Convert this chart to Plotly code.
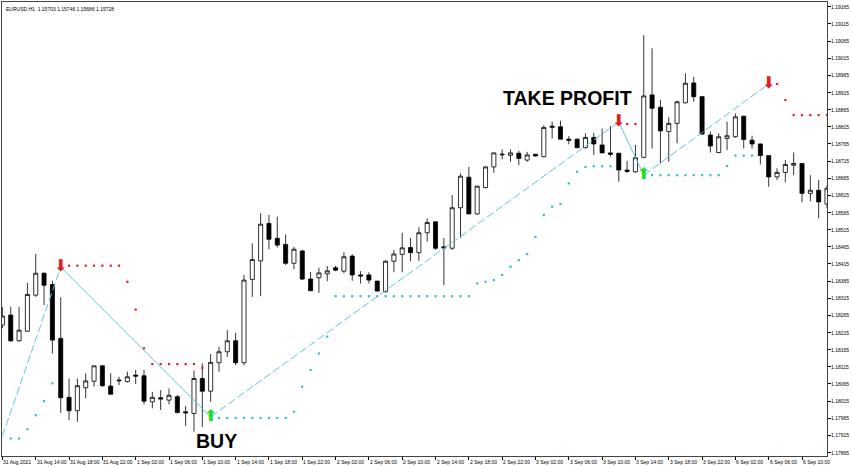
import plotly.graph_objects as go

# EURUSD H1, 31 Aug 10:00 -> 6 Sep 13:00 (weekend bars removed), one row per hourly bar
bar = list(range(100))

open_ = [1.18237, 1.18266, 1.18191, 1.18219, 1.18324, 1.18388, 1.18355, 1.18198, 1.18026, 1.17987,
         1.18054, 1.18073, 1.18118, 1.18059, 1.18074, 1.18072, 1.18091, 1.18089, 1.18013, 1.18025,
         1.18018, 1.18028, 1.17984, 1.17979, 1.18081, 1.18044, 1.18127, 1.18159, 1.18191, 1.18127,
         1.18370, 1.18424, 1.18533, 1.18490, 1.18472, 1.18417, 1.18453, 1.18371, 1.18375, 1.18386,
         1.18404, 1.18394, 1.18438, 1.18383, 1.18383, 1.18365, 1.18334, 1.18423, 1.18443, 1.18463,
         1.18448, 1.18506, 1.18538, 1.18465, 1.18461, 1.18579, 1.18668, 1.18561, 1.18638, 1.18698,
         1.18733, 1.18732, 1.18738, 1.18718, 1.18735, 1.18728, 1.18813, 1.18815, 1.18779, 1.18779,
         1.18754, 1.18784, 1.18762, 1.18739, 1.18738, 1.18689, 1.18684, 1.18726, 1.18908, 1.18872,
         1.18801, 1.18825, 1.18885, 1.18943, 1.18903, 1.18791, 1.18740, 1.18781, 1.18786, 1.18846,
         1.18776, 1.18765, 1.18731, 1.18669, 1.18682, 1.18703, 1.18708, 1.18621, 1.18630, 1.18590]

high = [1.18289, 1.18290, 1.18290, 1.18360, 1.18444, 1.18390, 1.18366, 1.18318, 1.18081, 1.18081,
        1.18096, 1.18118, 1.18119, 1.18096, 1.18086, 1.18101, 1.18106, 1.18106, 1.18042, 1.18047,
        1.18052, 1.18033, 1.18001, 1.18104, 1.18125, 1.18152, 1.18174, 1.18222, 1.18214, 1.18383,
        1.18475, 1.18563, 1.18558, 1.18553, 1.18501, 1.18465, 1.18456, 1.18392, 1.18404, 1.18409,
        1.18410, 1.18449, 1.18443, 1.18394, 1.18391, 1.18366, 1.18426, 1.18456, 1.18506, 1.18491,
        1.18522, 1.18548, 1.18539, 1.18491, 1.18616, 1.18679, 1.18698, 1.18642, 1.18700, 1.18739,
        1.18749, 1.18749, 1.18745, 1.18742, 1.18736, 1.18820, 1.18830, 1.18833, 1.18788, 1.18781,
        1.18796, 1.18797, 1.18810, 1.18817, 1.18739, 1.18716, 1.18762, 1.19082, 1.19044, 1.18893,
        1.18843, 1.18891, 1.18971, 1.18961, 1.18904, 1.18801, 1.18796, 1.18830, 1.18854, 1.18847,
        1.18789, 1.18766, 1.18732, 1.18694, 1.18718, 1.18740, 1.18709, 1.18674, 1.18660, 1.18645]

low = [1.18228, 1.18188, 1.18188, 1.18217, 1.18319, 1.18295, 1.18154, 1.17981, 1.17960, 1.17955,
       1.18023, 1.18057, 1.18057, 1.18035, 1.18062, 1.18069, 1.18065, 1.18006, 1.17994, 1.17989,
       1.18006, 1.17979, 1.17942, 1.17926, 1.17940, 1.18013, 1.18101, 1.18144, 1.18120, 1.18120,
       1.18319, 1.18321, 1.18458, 1.18463, 1.18412, 1.18400, 1.18368, 1.18337, 1.18331, 1.18365,
       1.18394, 1.18388, 1.18366, 1.18358, 1.18358, 1.18334, 1.18332, 1.18391, 1.18391, 1.18423,
       1.18424, 1.18480, 1.18456, 1.18353, 1.18456, 1.18491, 1.18561, 1.18558, 1.18635, 1.18681,
       1.18720, 1.18713, 1.18703, 1.18713, 1.18728, 1.18726, 1.18781, 1.18779, 1.18764, 1.18754,
       1.18752, 1.18733, 1.18739, 1.18728, 1.18655, 1.18681, 1.18681, 1.18723, 1.18752, 1.18708,
       1.18713, 1.18767, 1.18883, 1.18888, 1.18791, 1.18740, 1.18738, 1.18747, 1.18783, 1.18752,
       1.18752, 1.18705, 1.18640, 1.18660, 1.18653, 1.18674, 1.18595, 1.18598, 1.18548, 1.18578]

close = [1.18263, 1.18191, 1.18222, 1.18326, 1.18388, 1.18353, 1.18193, 1.18025, 1.17987, 1.18060,
         1.18074, 1.18118, 1.18060, 1.18035, 1.18076, 1.18086, 1.18088, 1.18015, 1.18026, 1.18021,
         1.18032, 1.17982, 1.17981, 1.18081, 1.18044, 1.18128, 1.18159, 1.18191, 1.18127, 1.18368,
         1.18428, 1.18531, 1.18487, 1.18470, 1.18417, 1.18458, 1.18371, 1.18337, 1.18389, 1.18395,
         1.18397, 1.18436, 1.18383, 1.18380, 1.18368, 1.18336, 1.18423, 1.18444, 1.18462, 1.18448,
         1.18506, 1.18536, 1.18461, 1.18462, 1.18579, 1.18671, 1.18561, 1.18642, 1.18698, 1.18739,
         1.18735, 1.18739, 1.18723, 1.18733, 1.18730, 1.18813, 1.18817, 1.18779, 1.18776, 1.18754,
         1.18784, 1.18765, 1.18739, 1.18735, 1.18689, 1.18685, 1.18725, 1.18905, 1.18869, 1.18803,
         1.18825, 1.18888, 1.18942, 1.18903, 1.18794, 1.18759, 1.18786, 1.18789, 1.18844, 1.18778,
         1.18765, 1.18731, 1.18669, 1.18682, 1.18705, 1.18708, 1.18621, 1.18630, 1.18596, 1.18636]

# trailing stop dots of the indicator (None = no dot on that bar)
support = ([None] + [1.17906, 1.17906, 1.17933, 1.17974, 1.18015, 1.18067] + [None] * 19
           + [1.17966] * 9 + [1.17984, 1.18057, 1.18106, 1.18154, 1.18203] + [1.18321] * 17
           + [1.18358, 1.18363, 1.18368, 1.18383, 1.18407, 1.18426, 1.18444, 1.18494, 1.18558,
              1.18582, 1.18590, 1.18650, 1.18684, 1.18698, 1.18700, 1.18700, 1.18700]
           + [None] * 4 + [1.18674] * 9 + [1.18701, 1.18731, 1.18731, 1.18731] + [None] * 9)

resistance = ([None] * 8 + [1.18410] * 7 + [1.18363, 1.18282, 1.18169] + [1.18123] * 6 + [1.18112]
              + [None] * 50 + [1.18823, 1.18823] + [None] * 16
              + [1.18940, 1.18893] + [1.18849] * 5)

# zigzag swing points and the signal arrows sitting on them
zz_bar = [0, 7, 25, 74, 77, 92]
zz_price = [1.17913, 1.18406, 1.17969, 1.18829, 1.18674, 1.18940]
sell_bar = [7, 74, 92]
sell_price = [1.18406, 1.18829, 1.18940]
buy_bar = [25, 77]
buy_price = [1.17969, 1.18674]

tick_bar = list(range(0, 100, 4))
tick_text = ["31 Aug 2021", "31 Aug 14:00", "31 Aug 18:00", "31 Aug 22:00", "1 Sep 02:00",
             "1 Sep 06:00", "1 Sep 10:00", "1 Sep 14:00", "1 Sep 18:00", "1 Sep 22:00",
             "2 Sep 02:00", "2 Sep 06:00", "2 Sep 10:00", "2 Sep 14:00", "2 Sep 18:00",
             "2 Sep 22:00", "3 Sep 02:00", "3 Sep 06:00", "3 Sep 10:00", "3 Sep 14:00",
             "3 Sep 18:00", "3 Sep 22:00", "6 Sep 02:00", "6 Sep 06:00", "6 Sep 10:00"]
price_ticks = [1.17865, 1.17915, 1.17965, 1.18015, 1.18065, 1.18115, 1.18165, 1.18215, 1.18265,
               1.18315, 1.18365, 1.18415, 1.18465, 1.18515, 1.18565, 1.18615, 1.18665, 1.18715,
               1.18765, 1.18815, 1.18865, 1.18915, 1.18965, 1.19015, 1.19065, 1.19115, 1.19165]

ZZ = "#62c6dc"
CYAN = "#38bccc"
RED = "#e02020"
SMALL = dict(family="Liberation Sans", size=5, color="black")

fig = go.Figure()

fig.add_trace(go.Candlestick(
    x=bar, open=open_, high=high, low=low, close=close,
    increasing=dict(line=dict(color="black", width=0.8), fillcolor="white"),
    decreasing=dict(line=dict(color="black", width=0.8), fillcolor="black"),
    whiskerwidth=0, showlegend=False, hoverinfo="skip",
))

# zigzag: rising legs dashed, falling legs solid
up_x, up_y, dn_x, dn_y = [], [], [], []
for i in range(len(zz_bar) - 1):
    seg_x = [zz_bar[i], zz_bar[i + 1], None]
    seg_y = [zz_price[i], zz_price[i + 1], None]
    if zz_price[i + 1] > zz_price[i]:
        up_x += seg_x
        up_y += seg_y
    else:
        dn_x += seg_x
        dn_y += seg_y

fig.add_trace(go.Scatter(x=up_x, y=up_y, mode="lines", showlegend=False, hoverinfo="skip",
                         line=dict(color=ZZ, width=1, dash="8px,3px")))
fig.add_trace(go.Scatter(x=dn_x, y=dn_y, mode="lines", showlegend=False, hoverinfo="skip",
                         line=dict(color=ZZ, width=1)))

fig.add_trace(go.Scatter(x=bar, y=support, mode="markers", showlegend=False, hoverinfo="skip",
                         marker=dict(symbol="square", size=2.2, color=CYAN)))
fig.add_trace(go.Scatter(x=bar, y=resistance, mode="markers", showlegend=False, hoverinfo="skip",
                         marker=dict(symbol="square", size=2.2, color=RED)))

fig.add_trace(go.Scatter(x=sell_bar, y=sell_price, mode="text", text=["⬇"] * len(sell_bar),
                         textposition="middle center", showlegend=False, hoverinfo="skip",
                         textfont=dict(family="DejaVu Sans", size=16, color=RED)))
fig.add_trace(go.Scatter(x=buy_bar, y=buy_price, mode="text", text=["⬆"] * len(buy_bar),
                         textposition="middle center", showlegend=False, hoverinfo="skip",
                         textfont=dict(family="DejaVu Sans", size=16, color="#22dd22")))

fig.add_annotation(x=59.8, y=1.18899, text="<b>TAKE PROFIT</b>", showarrow=False,
                   xanchor="left", yanchor="middle",
                   font=dict(family="Liberation Sans", size=19.5, color="black"))
fig.add_annotation(x=23.0, y=1.17899, text="<b>BUY</b>", showarrow=False,
                   xanchor="left", yanchor="middle",
                   font=dict(family="Liberation Sans", size=19.5, color="black"))
fig.add_annotation(x=0.002, y=0.996, xref="paper", yref="paper",
                   text="EURUSD,H1  1.15703 1.15746 1.15686 1.15728", showarrow=False,
                   xanchor="left", yanchor="top", font=SMALL)

# MT4 style axis labels: time labels start at their tick, prices sit right of the scale
for b, t in zip(tick_bar, tick_text):
    fig.add_annotation(x=b, y=0, xref="x", yref="paper", text=t, showarrow=False,
                       xanchor="left", yanchor="top", xshift=-1, yshift=-1, font=SMALL)
for p in price_ticks:
    fig.add_annotation(x=1, y=p, xref="paper", yref="y", text=f"{p:.5f}", showarrow=False,
                       xanchor="left", yanchor="middle", xshift=2, font=SMALL)

fig.update_layout(
    width=852, height=467,
    margin=dict(l=2, r=25, t=2, b=11, autoexpand=False),
    paper_bgcolor="white", plot_bgcolor="white",
    font=SMALL,
    xaxis=dict(range=[-0.05, 99.0], rangeslider=dict(visible=False), automargin=False,
               tickvals=tick_bar, showticklabels=False,
               ticks="outside", ticklen=3, tickcolor="black", showgrid=False, zeroline=False,
               showline=True, linecolor="#444", linewidth=1, mirror=True),
    yaxis=dict(range=[1.17855, 1.19179], side="right", automargin=False,
               tickvals=price_ticks, showticklabels=False,
               ticks="outside", ticklen=3, tickcolor="black",
               showgrid=False, zeroline=False,
               showline=True, linecolor="#444", linewidth=1, mirror=True),
)

# the page has the browser's default 8px body margin; drop it so the chart fills the window
fig.write_html("out.html", config={"displayModeBar": False},
               post_script="document.body.style.margin = '0';")
